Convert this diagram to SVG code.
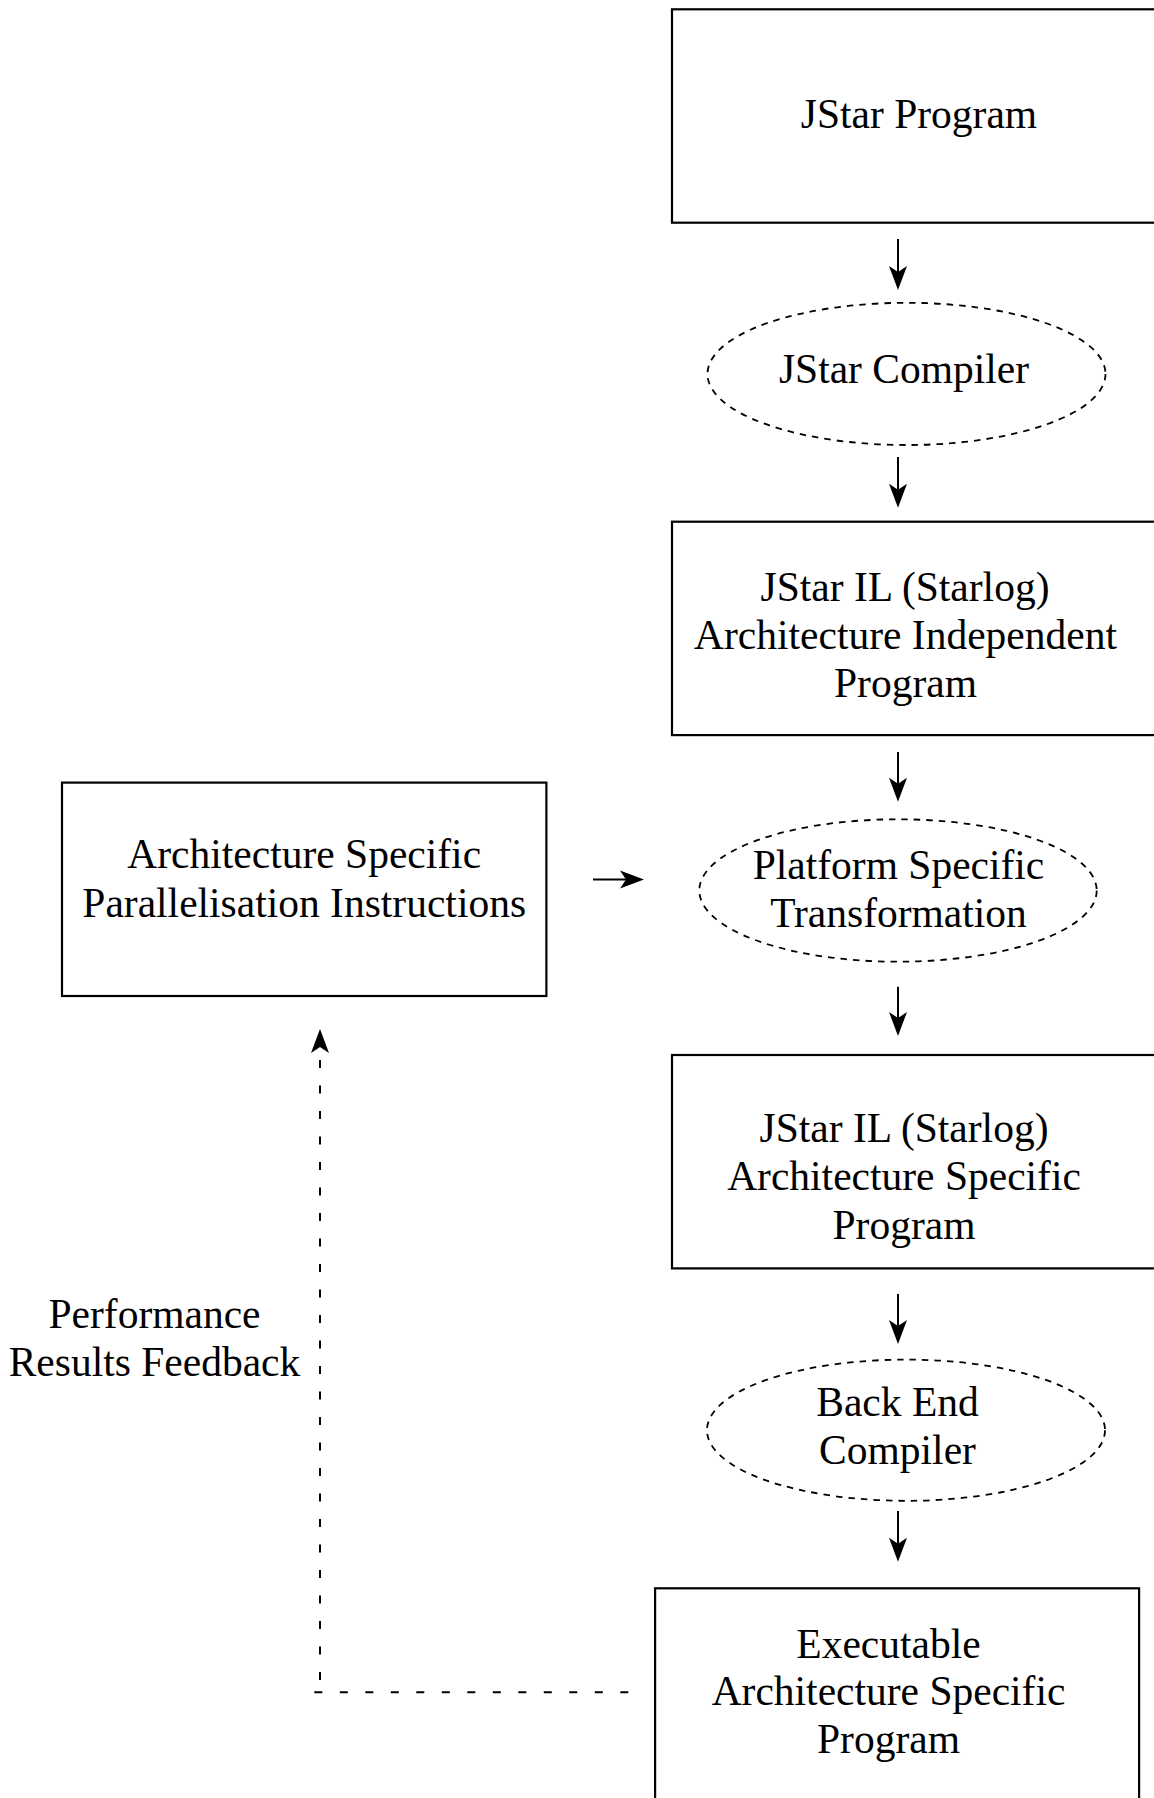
<svg xmlns="http://www.w3.org/2000/svg" width="1154" height="1798" viewBox="0 0 1154 1798">
  <style>
    .box { fill: #fff; stroke: #000; stroke-width: 2.2; }
    .proc { fill: #fff; stroke: #000; stroke-width: 1.8; stroke-dasharray: 6.5 6; }
    .lbl { font-family: "Liberation Serif", "Times New Roman", serif; font-size: 41.5px; fill: #000; text-anchor: middle; }
    .flow { fill: none; stroke: #000; stroke-width: 2; marker-end: url(#head); }
    .feedback { fill: none; stroke: #000; stroke-width: 2; stroke-dasharray: 8 17.5; }
  </style>
  <defs>
    <!-- notched arrowhead; the line ends at the notch, the tip sits 18px further on -->
    <marker id="head" markerUnits="userSpaceOnUse" viewBox="-8 -10 28 20" markerWidth="28" markerHeight="20" refX="0" refY="0" orient="auto" overflow="visible">
      <path d="M18,0 L-6,-9 L0,0 L-6,9 Z" fill="#000"/>
    </marker>
  </defs>

  <rect width="1154" height="1798" fill="#fff"/>

  <!-- connectors -->
  <g id="connectors">
    <path class="flow" d="M898,239 L898,272"/>
    <path class="flow" d="M898,457 L898,489.7"/>
    <path class="flow" d="M898,752 L898,783.7"/>
    <path class="flow" d="M898,986.7 L898,1018"/>
    <path class="flow" d="M898,1294 L898,1326"/>
    <path class="flow" d="M898,1511 L898,1543.7"/>
    <path class="flow" d="M593,879.5 L626,879.5"/>
    <!-- performance feedback loop -->
    <path class="feedback" d="M628.3,1692.3 L313,1692.3"/>
    <path class="feedback" d="M320,1680 L320,1047" marker-end="url(#head)"/>
  </g>

  <g id="jstar-program">
    <rect class="box" x="672" y="9.3" width="484" height="213.4"/>
    <text class="lbl" x="919" y="128">JStar Program</text>
  </g>

  <g id="jstar-compiler">
    <ellipse class="proc" cx="906.5" cy="373.9" rx="199" ry="71.1"/>
    <text class="lbl" x="904" y="383.3">JStar Compiler</text>
  </g>

  <g id="il-independent">
    <rect class="box" x="672" y="521.7" width="484" height="213.4"/>
    <text class="lbl" x="905" y="601">JStar IL (Starlog)</text>
    <text class="lbl" x="905.5" y="648.5">Architecture Independent</text>
    <text class="lbl" x="905.5" y="697">Program</text>
  </g>

  <g id="arch-instructions">
    <rect class="box" x="62" y="782.6" width="484.4" height="213.4"/>
    <text class="lbl" x="304.2" y="868.3">Architecture Specific</text>
    <text class="lbl" x="304.2" y="916.7">Parallelisation Instructions</text>
  </g>

  <g id="platform-transformation">
    <ellipse class="proc" cx="898" cy="890.5" rx="198.7" ry="71.2"/>
    <text class="lbl" x="898.5" y="879">Platform Specific</text>
    <text class="lbl" x="898.5" y="927">Transformation</text>
  </g>

  <g id="il-specific">
    <rect class="box" x="672" y="1055" width="484" height="213.4"/>
    <text class="lbl" x="904" y="1142">JStar IL (Starlog)</text>
    <text class="lbl" x="904" y="1190">Architecture Specific</text>
    <text class="lbl" x="904" y="1238.5">Program</text>
  </g>

  <g id="feedback-label">
    <text class="lbl" x="154.5" y="1328.3">Performance</text>
    <text class="lbl" x="154.5" y="1376">Results Feedback</text>
  </g>

  <g id="backend-compiler">
    <ellipse class="proc" cx="906" cy="1430.2" rx="199" ry="70.6"/>
    <text class="lbl" x="897.5" y="1415.5">Back End</text>
    <text class="lbl" x="897.5" y="1463.5">Compiler</text>
  </g>

  <g id="executable">
    <rect class="box" x="655.1" y="1588.3" width="484" height="230"/>
    <text class="lbl" x="888.5" y="1658.3">Executable</text>
    <text class="lbl" x="888.5" y="1705">Architecture Specific</text>
    <text class="lbl" x="888.5" y="1753.3">Program</text>
  </g>
</svg>
